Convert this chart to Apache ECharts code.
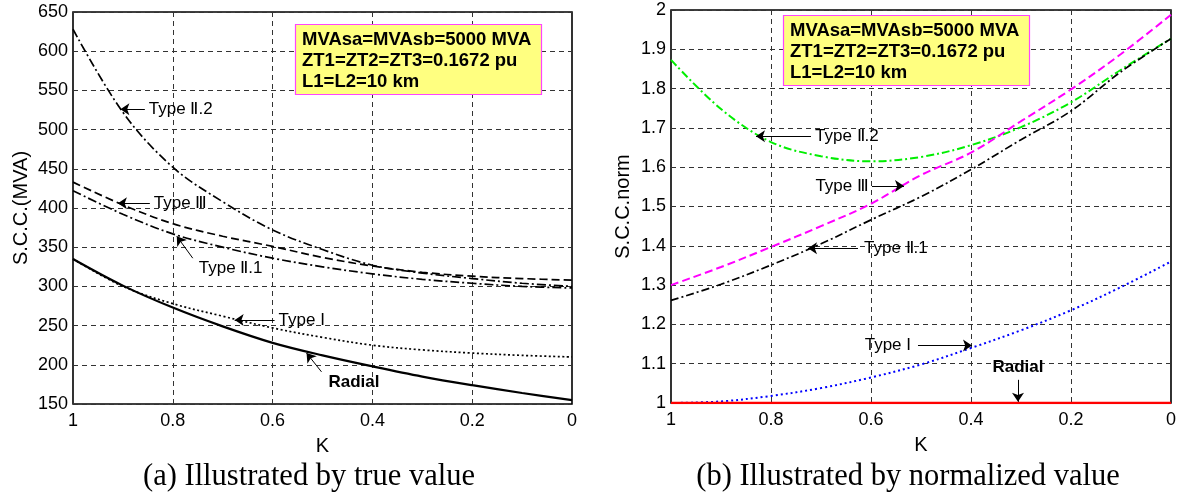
<!DOCTYPE html>
<html><head><meta charset="utf-8">
<script src="https://cdn.jsdelivr.net/npm/echarts@6/dist/echarts.min.js"></script>
<style>html,body{margin:0;padding:0;background:#fff}#c{width:1179px;height:498px}</style>
</head><body><div id="c"></div>
<script>
// ---- data ----
const K = [1, 0.9, 0.8, 0.7, 0.6, 0.5, 0.4, 0.3, 0.2, 0.1, 0];
const xTicks = [1, 0.8, 0.6, 0.4, 0.2, 0];
// (a) true value, MVA
const trueTypeII2 = [628, 522, 452, 408, 372, 347, 327, 317, 310, 304, 300];
const trueTypeIII = [433, 404, 380, 364, 351, 337, 326, 318, 313, 310, 308];
const trueTypeII1 = [422, 392, 367, 350, 336, 325, 316, 309, 304, 300, 298];
const trueTypeI   = [335, 300, 278, 262, 247, 235, 225, 219, 215, 212, 210];
const trueRadial  = [335, 301, 273, 249, 228, 212, 198, 185, 174, 164, 155];
// (b) normalized value
const normTypeII2 = [1.873, 1.748, 1.664, 1.628, 1.615, 1.626, 1.656, 1.702, 1.765, 1.848, 1.927];
const normTypeIII = [1.300, 1.346, 1.397, 1.450, 1.507, 1.580, 1.637, 1.717, 1.798, 1.888, 1.988];
const normTypeII1 = [1.261, 1.302, 1.351, 1.405, 1.466, 1.525, 1.594, 1.670, 1.743, 1.843, 1.927];
const normTypeI   = [1.000, 1.004, 1.018, 1.038, 1.065, 1.098, 1.140, 1.185, 1.236, 1.295, 1.360];
const normRadial  = [1, 1, 1, 1, 1, 1, 1, 1, 1, 1, 1];

const boxText = 'MVAsa=MVAsb=5000 MVA\nZT1=ZT2=ZT3=0.1672 pu\nL1=L2=10 km';
const titleA = '(a) Illustrated by true value';
const titleB = '(b) Illustrated by normalized value';

// annotations (data coordinates)
const notesA = [
  {text: 'Type Ⅱ.2', tail: [0.856, 526], head: [0.905, 526], at: [0.852, 526], pos: 'right'},
  {text: 'Type Ⅲ',   tail: [0.846, 406], head: [0.910, 406], at: [0.842, 406], pos: 'right'},
  {text: 'Type Ⅱ.1', tail: [0.760, 336], head: [0.792, 364], at: [0.752, 323], pos: 'right'},
  {text: 'Type I',    tail: [0.596, 257], head: [0.676, 257], at: [0.592, 257], pos: 'right'},
  {text: 'Radial',    tail: [0.502, 191], head: [0.532, 215], at: [0.492, 178], pos: 'right', bold: true}
];
const notesB = [
  {text: 'Type Ⅱ.2', tail: [0.720, 1.679], head: [0.830, 1.679], at: [0.716, 1.679], pos: 'right'},
  {text: 'Type Ⅲ',   tail: [0.598, 1.552], head: [0.534, 1.552], at: [0.600, 1.552], pos: 'left'},
  {text: 'Type Ⅱ.1', tail: [0.626, 1.394], head: [0.726, 1.394], at: [0.618, 1.394], pos: 'right'},
  {text: 'Type I',    tail: [0.506, 1.146], head: [0.398, 1.146], at: [0.516, 1.148], pos: 'left'},
  {text: 'Radial',    tail: [0.306, 1.059], head: [0.306, 1.003], at: [0.306, 1.092], pos: 'inside', bold: true}
];

// ---- chart ----
const FONT = 'Liberation Sans, Arial, sans-serif';
const pairs = (xs, ys) => xs.map((x, i) => [x, ys[i]]);

function mkLine(name, idx, vals, color, type, width) {
  return {
    name, type: 'line', xAxisIndex: idx, yAxisIndex: idx,
    data: pairs(K, vals), smooth: 0.35, showSymbol: false, symbol: 'none',
    lineStyle: {color, width: width || 1.6, type}, silent: true, animation: false, z: 3
  };
}
function notesSeries(idx, notes) {
  return {
    type: 'line', xAxisIndex: idx, yAxisIndex: idx, data: [], silent: true, animation: false,
    markLine: {
      silent: true, animation: false, symbol: ['none', 'arrow'], symbolSize: 9, precision: 4,
      lineStyle: {color: '#000', width: 1, type: 'solid'}, label: {show: false},
      emphasis: {disabled: true},
      data: notes.map(n => [{coord: n.tail}, {coord: n.head}])
    },
    markPoint: {
      silent: true, animation: false, symbol: 'circle', symbolSize: 0,
      itemStyle: {color: 'transparent'},
      label: {show: true, color: '#000', fontFamily: FONT, fontSize: 17, distance: 2},
      data: notes.map(n => ({
        coord: n.at,
        label: {position: n.pos, formatter: n.text, fontWeight: n.bold ? 'bold' : 'normal'}
      }))
    }
  };
}

const splitStyle = {show: true, lineStyle: {color: '#333', width: 1, type: [5, 4]}};
function xAx(idx) {
  return {
    type: 'value', gridIndex: idx, min: 0, max: 1, interval: 0.2, inverse: true,
    axisLine: {show: false}, axisTick: {show: false}, splitLine: splitStyle,
    axisLabel: {color: '#000', fontSize: 18, fontFamily: FONT, margin: 8,
      formatter: v => xTicks.includes(+v.toFixed(1)) ? String(+v.toFixed(1)) : ''},
    name: 'K', nameLocation: 'middle', nameGap: 32,
    nameTextStyle: {color: '#000', fontSize: 20, fontFamily: FONT}
  };
}

const serif = {fontFamily: 'Liberation Serif, Times New Roman, serif', fontSize: 30.5, fontWeight: 'normal', color: '#000'};
const boxStyle = {fontFamily: FONT, fontSize: 18.5, fontWeight: 'bold', color: '#000', lineHeight: 21};

const chart = echarts.init(document.getElementById('c'), null, {renderer: 'canvas'});
chart.setOption({
  animation: false,
  backgroundColor: '#fff',
  title: [
    {text: titleA, left: 309, top: 461, textAlign: 'center', padding: 0, textStyle: serif},
    {text: titleB, left: 908, top: 461, textAlign: 'center', padding: 0, textStyle: serif},
    {text: boxText, left: 295, top: 24, backgroundColor: '#ffff80', borderColor: '#ff44ff', borderWidth: 1.2,
      padding: [5, 10, 3, 7], textStyle: boxStyle},
    {text: boxText, left: 783, top: 15, backgroundColor: '#ffff80', borderColor: '#ff44ff', borderWidth: 1.2,
      padding: [5, 10, 3, 7], textStyle: boxStyle}
  ],
  grid: [
    {left: 73, right: 607, top: 12, bottom: 94, show: true, borderColor: '#000', borderWidth: 1.6, backgroundColor: 'transparent'},
    {left: 671, right: 8, top: 10, bottom: 95, show: true, borderColor: '#000', borderWidth: 1.6, backgroundColor: 'transparent'}
  ],
  xAxis: [xAx(0), xAx(1)],
  yAxis: [
    {type: 'value', gridIndex: 0, min: 150, max: 650, interval: 50,
      axisLine: {show: false}, axisTick: {show: false}, splitLine: splitStyle,
      axisLabel: {color: '#000', fontSize: 18, fontFamily: FONT, margin: 5},
      name: 'S.C.C.(MVA)', nameLocation: 'middle', nameGap: 42,
      nameTextStyle: {color: '#000', fontSize: 20, fontFamily: FONT}},
    {type: 'value', gridIndex: 1, min: 1, max: 2, interval: 0.1,
      axisLine: {show: false}, axisTick: {show: false}, splitLine: splitStyle,
      axisLabel: {color: '#000', fontSize: 18, fontFamily: FONT, margin: 5},
      name: 'S.C.C.norm', nameLocation: 'middle', nameGap: 38,
      nameTextStyle: {color: '#000', fontSize: 20, fontFamily: FONT}}
  ],
  series: [
    mkLine('Type Ⅱ.2', 0, trueTypeII2, '#000', [9, 3, 2, 3], 1.7),
    mkLine('Type Ⅲ', 0, trueTypeIII, '#000', [8, 4], 1.7),
    mkLine('Type Ⅱ.1', 0, trueTypeII1, '#000', [9, 3, 2, 3], 1.7),
    mkLine('Type I', 0, trueTypeI, '#000', [2, 2.5], 1.7),
    mkLine('Radial', 0, trueRadial, '#000', 'solid', 2.2),
    notesSeries(0, notesA),
    mkLine('Type Ⅱ.2', 1, normTypeII2, '#00ee00', [8, 3, 2, 3], 2),
    mkLine('Type Ⅲ', 1, normTypeIII, '#ff00ff', [8, 4], 2),
    mkLine('Type Ⅱ.1', 1, normTypeII1, '#000', [8, 3, 2, 3], 1.7),
    mkLine('Type I', 1, normTypeI, '#0000ff', [2, 3], 2),
    mkLine('Radial', 1, normRadial, '#ff0000', 'solid', 2.5),
    notesSeries(1, notesB)
  ]
});
</script>
</body></html>
